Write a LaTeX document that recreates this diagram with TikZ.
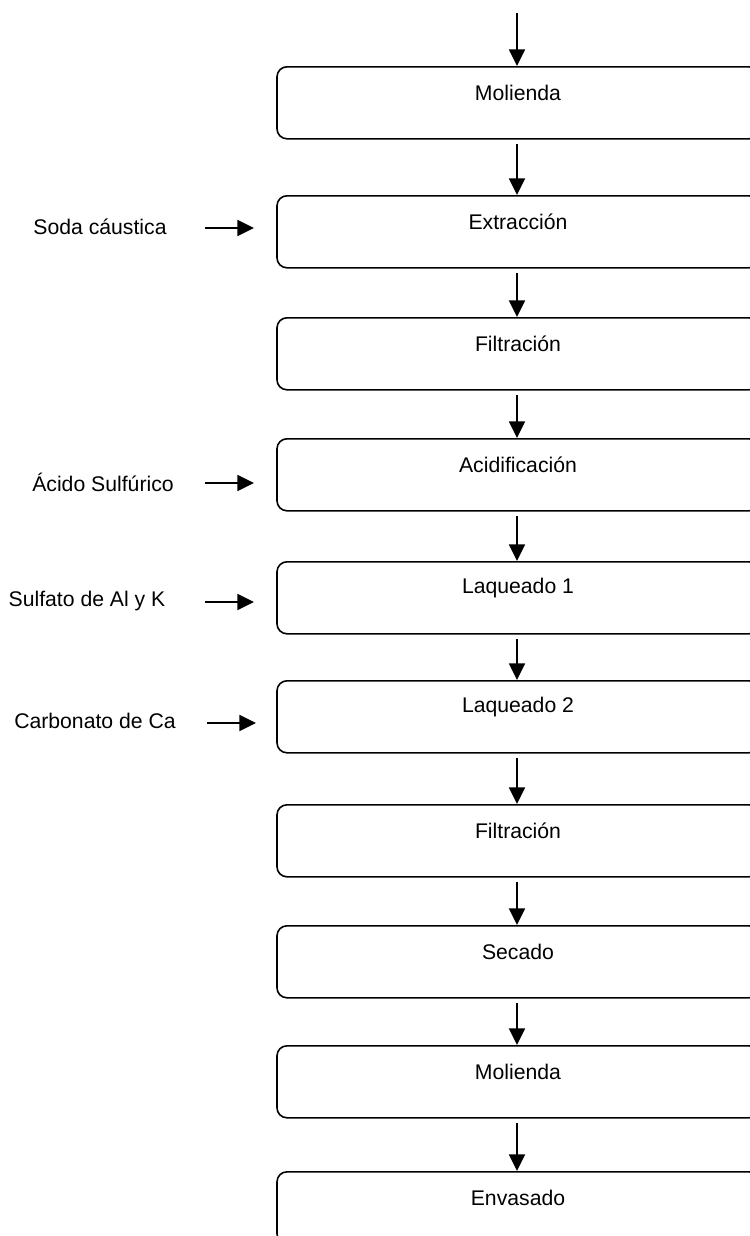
\documentclass[tikz,border=0pt]{standalone}
\usepackage{fontspec}
\setmainfont{Liberation Sans}
\usetikzlibrary{arrows.meta}
\begin{document}
\begin{tikzpicture}[x=0.75pt,y=-0.75pt,
  proc/.style={draw=black,line width=1.2pt,rounded corners=7.5pt,minimum width=361.5pt,minimum height=54pt,inner sep=0pt,anchor=north},
  txt/.style={font=\fontsize{15.9}{18}\selectfont,inner sep=0pt},
  flow/.style={draw=black,line width=1.3pt,-{Triangle[length=12.5pt,width=12pt]}}]
\useasboundingbox (0,0) rectangle (750,1236);
\clip (0,0) rectangle (750,1236);
\fill[white] (0,0) rectangle (750,1236);
% boxes
\foreach \n/\t in {b1/66,b2/195,b3/317,b4/438,b5/561,b6/680,b7/804,b8/925,b9/1045,b10/1171}{
  \node[proc] (\n) at (518,\t) {};
}
\node[txt] (t1) at ([yshift=-20pt]b1.north) {Molienda};
\node[txt] (t2) at ([yshift=-20pt]b2.north) {Extracción};
\node[txt] (t3) at ([yshift=-20pt]b3.north) {Filtración};
\node[txt] (t4) at ([yshift=-20pt]b4.north) {Acidificación};
\node[txt] (t5) at ([yshift=-20pt]b5.north) {Laqueado 1};
\node[txt] (t6) at ([yshift=-20pt]b6.north) {Laqueado 2};
\node[txt] (t7) at ([yshift=-20pt]b7.north) {Filtración};
\node[txt] (t8) at ([yshift=-20pt]b8.north) {Secado};
\node[txt] (t9) at ([yshift=-20pt]b9.north) {Molienda};
\node[txt] (t10) at ([yshift=-20pt]b10.north) {Envasado};
% vertical arrows
\coordinate (in0) at (517,13);
\draw[flow] (in0) -- ([xshift=-0.75pt]b1.north);
\foreach \a/\b in {b1/b2,b2/b3,b3/b4,b4/b5,b5/b6,b6/b7,b7/b8,b8/b9,b9/b10}{
  \draw[flow] ([xshift=-0.75pt,yshift=-3.5pt]\a.south) -- ([xshift=-0.75pt]\b.north);
}
% side inputs
\node[txt] (s1) at (100,227) {Soda cáustica};
\node[txt] (s2) at (103,482) {Ácido Sulfúrico};
\node[txt] (s3) at (87,601) {Sulfato de Al y K};
\node[txt] (s4) at (95,721) {Carbonato de Ca};
\coordinate (a1s) at (205,228); \coordinate (a1e) at (254,228);
\coordinate (a2s) at (205,483); \coordinate (a2e) at (254,483);
\coordinate (a3s) at (205,602); \coordinate (a3e) at (254,602);
\coordinate (a4s) at (207,723); \coordinate (a4e) at (256,723);
\draw[flow] (a1s) -- (a1e);
\draw[flow] (a2s) -- (a2e);
\draw[flow] (a3s) -- (a3e);
\draw[flow] (a4s) -- (a4e);
\end{tikzpicture}
\end{document}
